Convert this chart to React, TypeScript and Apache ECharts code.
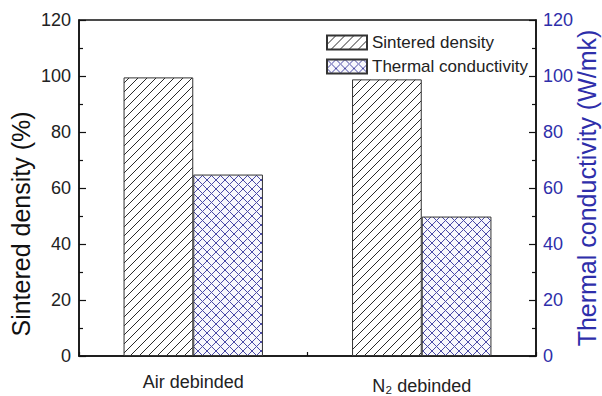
import React, { useEffect, useRef } from 'react';
import * as echarts from 'echarts';

const categories = ['Air debinded', 'N₂ debinded'];
const sinteredDensity = [99.5, 98.8];
const thermalConductivity = [64.8, 49.8];
const seriesNames = ['Sintered density', 'Thermal conductivity'];
const leftAxisName = 'Sintered density (%)';
const rightAxisName = 'Thermal conductivity (W/mk)';

const BLUE = '#2e2eaa';
const FONT = '"Liberation Sans", Arial, sans-serif';

function makePattern(kind: 'diag' | 'cross'): HTMLCanvasElement {
  const s = 9;
  const c = document.createElement('canvas');
  c.width = s;
  c.height = s;
  const ctx = c.getContext('2d')!;
  ctx.fillStyle = kind === 'diag' ? '#ffffff' : '#f7f7fc';
  ctx.fillRect(0, 0, s, s);
  ctx.lineWidth = 1;
  ctx.strokeStyle = kind === 'diag' ? '#2a2a2a' : '#4a4aa6';
  ctx.beginPath();
  ctx.moveTo(-1, s + 1);
  ctx.lineTo(s + 1, -1);
  ctx.moveTo(-2, 2);
  ctx.lineTo(2, -2);
  ctx.moveTo(s - 2, s + 2);
  ctx.lineTo(s + 2, s - 2);
  if (kind === 'cross') {
    ctx.moveTo(-1, -1);
    ctx.lineTo(s + 1, s + 1);
    ctx.moveTo(-2, s - 2);
    ctx.lineTo(2, s + 2);
    ctx.moveTo(s - 2, -2);
    ctx.lineTo(s + 2, 2);
  }
  ctx.stroke();
  return c;
}

export default function App() {
  const ref = useRef<HTMLDivElement>(null);
  useEffect(() => {
    if (!ref.current) return;
    const chart = echarts.init(ref.current, undefined, { renderer: 'svg' });
    const diag = makePattern('diag');
    const cross = makePattern('cross');
    const yAxisCommon = {
      type: 'value',
      min: 0,
      max: 120,
      interval: 20,
      splitLine: { show: false },
      axisLine: { show: true, lineStyle: { color: '#111', width: 1.5 } },
      axisTick: { show: true, inside: true, length: 7, lineStyle: { color: '#111', width: 1.2 } },
      minorTick: { show: true, splitNumber: 2, length: 4, lineStyle: { color: '#111', width: 1.2 } },
      nameLocation: 'middle',
      nameMoveOverlap: false,
    };
    chart.setOption({
      animation: false,
      backgroundColor: '#ffffff',
      textStyle: { fontFamily: FONT },
      grid: {
        left: 79,
        right: 66,
        top: 20,
        bottom: 40,
        outerBoundsMode: 'none',
        containLabel: false,
        show: true,
        borderColor: '#111',
        borderWidth: 1.5,
        backgroundColor: 'transparent',
      },
      legend: {
        orient: 'vertical',
        left: 321,
        top: 29,
        itemWidth: 40,
        itemHeight: 14,
        itemGap: 7,
        icon: 'rect',
        textStyle: { fontSize: 17, color: '#222', fontFamily: FONT },
        data: seriesNames,
      },
      xAxis: {
        type: 'category',
        data: [
          { value: categories[0] },
          { value: categories[1], textStyle: { padding: [4, 0, 0, 0] } },
        ],
        axisLine: { show: true, lineStyle: { color: '#111', width: 1.5 } },
        axisTick: { show: true, inside: true, length: 4, alignWithLabel: false, lineStyle: { color: '#111', width: 1.2 } },
        axisLabel: { fontSize: 18, color: '#222', margin: 17, fontFamily: FONT },
        splitLine: { show: false },
      },
      yAxis: [
        {
          ...yAxisCommon,
          position: 'left',
          axisLabel: { fontSize: 18, color: '#222', margin: 8, fontFamily: FONT },
          name: leftAxisName,
          nameGap: 46,
          nameTextStyle: { fontSize: 25, color: '#111', fontFamily: FONT, padding: [0, 72, 0, 0] },
        },
        {
          ...yAxisCommon,
          position: 'right',
          axisLabel: { fontSize: 18, color: BLUE, margin: 7, fontFamily: FONT },
          name: rightAxisName,
          nameGap: 38,
          nameTextStyle: { fontSize: 25, color: BLUE, fontFamily: FONT },
        },
      ],
      series: [
        {
          name: seriesNames[0],
          type: 'bar',
          yAxisIndex: 0,
          data: sinteredDensity,
          barGap: '0%',
          barCategoryGap: '39%',
          itemStyle: {
            color: { image: diag, repeat: 'repeat' },
            borderColor: '#333',
            borderWidth: 1,
          },
        },
        {
          name: seriesNames[1],
          type: 'bar',
          yAxisIndex: 1,
          data: thermalConductivity,
          barGap: '0%',
          barCategoryGap: '39%',
          itemStyle: {
            color: { image: cross, repeat: 'repeat' },
            borderColor: '#333',
            borderWidth: 1,
          },
        },
      ],
    });
    return () => chart.dispose();
  }, []);
  return <div ref={ref} style={{ width: 602, height: 396, position: 'absolute', left: 0, top: 0 }} />;
}
